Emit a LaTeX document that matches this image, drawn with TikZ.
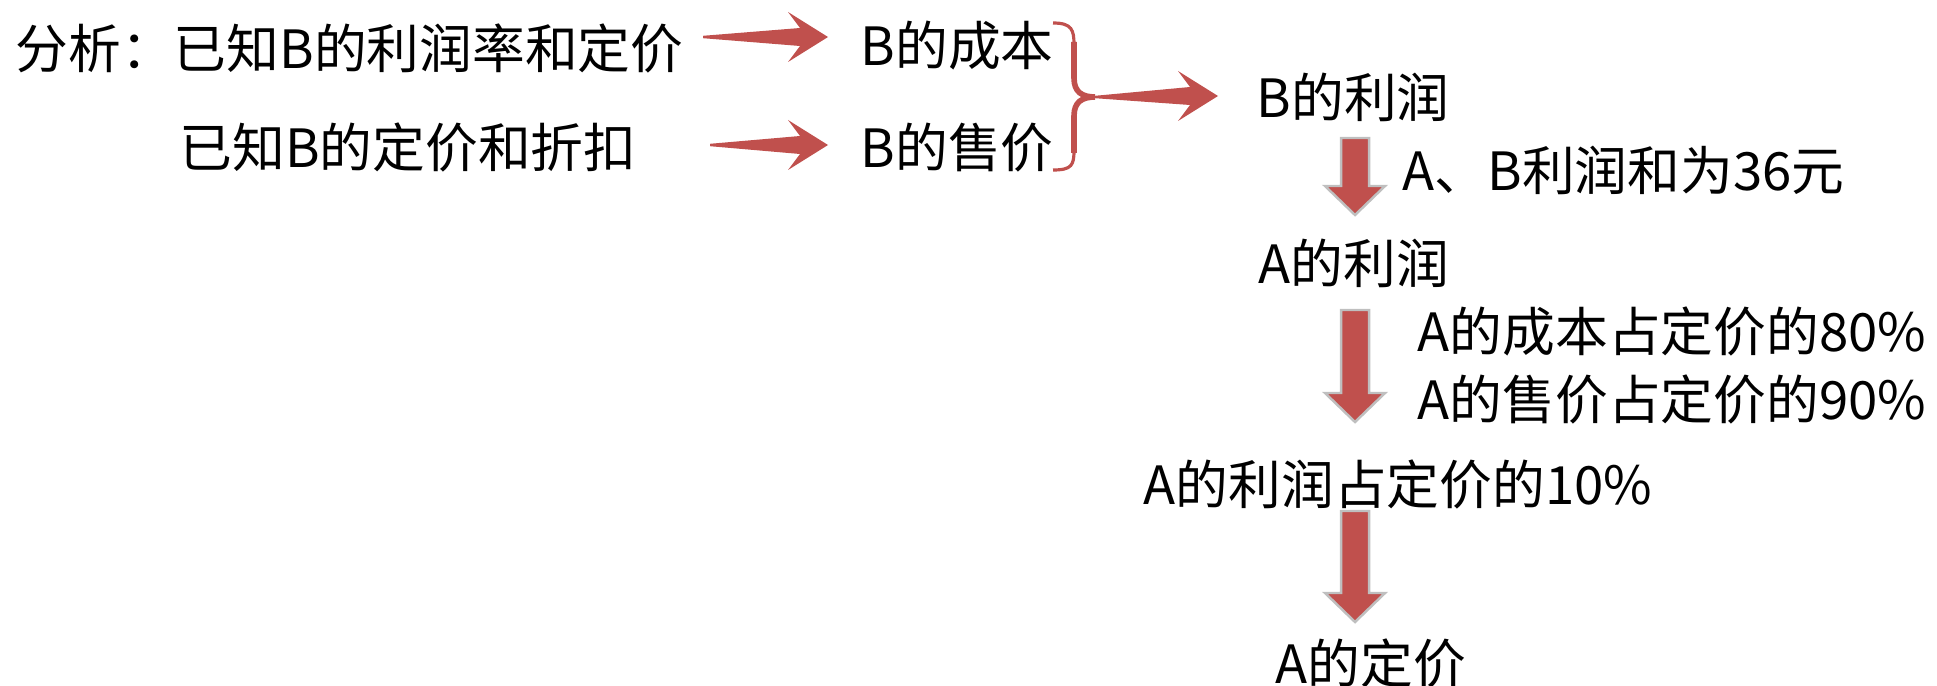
\documentclass[tikz,border=0pt]{standalone}
\usepackage{fontspec}
\newfontfamily\cjk{Noto Sans CJK SC}
\usetikzlibrary{calc}
\definecolor{arrowred}{HTML}{C0504D}
\definecolor{rimgray}{HTML}{BFBFBF}
% flat arrow, thin tail -> tip
\newcommand{\harrow}[2]{%
  \fill[arrowred] ($(#1)+(0,-1.2)$) -- ($(#2)+(-28,-9)$) -- ($(#2)+(-40,-25)$) -- (#2)
    -- ($(#2)+(-40,25)$) -- ($(#2)+(-28,9)$) -- ($(#1)+(0,1.2)$) -- cycle;}
% block arrow pointing down, top -> tip
\newcommand{\varrow}[2]{%
  \filldraw[arrowred,draw=rimgray,line width=0.7pt,line join=miter]
    ($(#1)+(-14,0)$) -- ($(#2)+(-14,-29)$) -- ($(#2)+(-30,-29)$) -- (#2)
    -- ($(#2)+(30,-29)$) -- ($(#2)+(14,-29)$) -- ($(#1)+(14,0)$) -- cycle;}
\begin{document}
\begin{tikzpicture}[x=0.01cm,y=-0.01cm]
    \tikzstyle{lbl}=[anchor=west,inner sep=0pt,font=\cjk\fontsize{15pt}{18pt}\selectfont,text height=13.2pt,text depth=1.8pt]
    \useasboundingbox (0,0) rectangle (1937,685);
    \node[lbl] (given1) at (15,48) {分析：已知B的利润率和定价};
    \node[lbl] (given2) at (179,147) {已知B的定价和折扣};
    \node[lbl] (bcost) at (860,45) {B的成本};
    \node[lbl] (bsell) at (860,147) {B的售价};
    \node[lbl] (bprofit) at (1256,97) {B的利润};
    \node[lbl] (sum) at (1402,170) {A、B利润和为36元};
    \node[lbl] (aprofit) at (1258,263) {A的利润};
    \node[lbl] (acost) at (1417,331) {A的成本占定价的80\%};
    \node[lbl] (asell) at (1417,399) {A的售价占定价的90\%};
    \node[lbl] (arate) at (1143,484) {A的利润占定价的10\%};
    \node[lbl] (aprice) at (1275,663) {A的定价};
    \coordinate (h1s) at (703,37);   \coordinate (h1e) at (828,37);
    \coordinate (h2s) at (710,145);  \coordinate (h2e) at (828,145);
    \coordinate (h3s) at (1095,97);  \coordinate (h3e) at (1218,96);
    \coordinate (v1s) at (1355,138); \coordinate (v1e) at (1355,215);
    \coordinate (v2s) at (1355,310); \coordinate (v2e) at (1355,422);
    \coordinate (v3s) at (1355,511); \coordinate (v3e) at (1355,622);
    \harrow{h1s}{h1e}
    \harrow{h2s}{h2e}
    \harrow{h3s}{h3e}
    \varrow{v1s}{v1e}
    \varrow{v2s}{v2e}
    \varrow{v3s}{v3e}
    % brace
    \draw[arrowred,line width=0.9pt] (1053,23) .. controls (1072,23) and (1074,30) .. (1074,45)
      (1074,150) .. controls (1074,165) and (1072,170) .. (1053,170);
    \draw[arrowred,line width=1.6pt] (1074,42)
      -- (1074,78) .. controls (1074,92) and (1082,97) .. (h3s)
      .. controls (1082,97) and (1074,102) .. (1074,116) -- (1074,153);
\end{tikzpicture}
\end{document}
